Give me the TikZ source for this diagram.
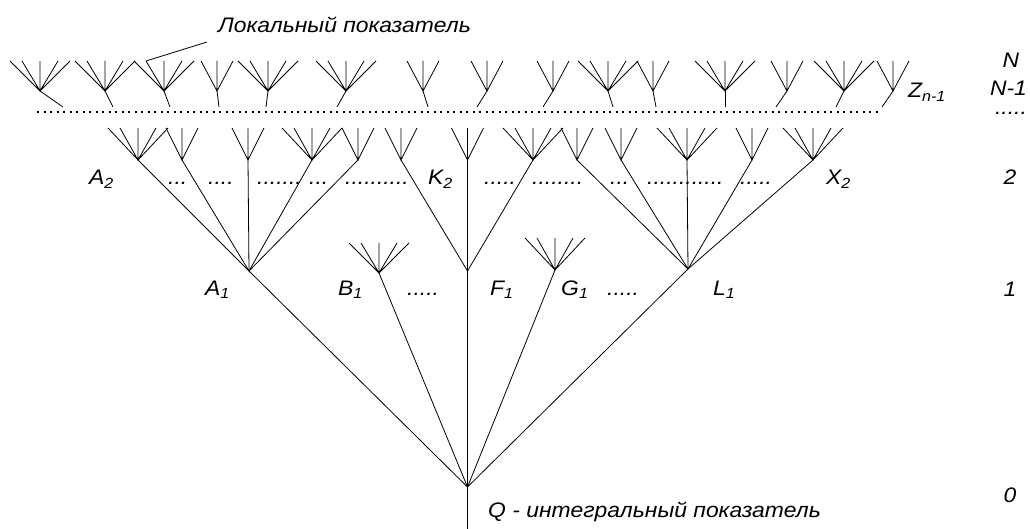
\documentclass[tikz,border=0pt]{standalone}
\usepackage{fontspec}
\setmainfont{Liberation Sans}[FakeStretch=1.09]
% a run of #1 full stops
\newcommand\dotrun[1]{\foreach \i in {1,...,#1}{.}}
\begin{document}
\begin{tikzpicture}[x=1pt,y=-1pt,
  wire/.style={line width=0.8pt,black},
  lab/.style={font=\fontsize{21}{24}\selectfont\itshape,inner sep=0pt,anchor=base west},
  lev/.style={lab,anchor=base},
  pics/fanfive/.style={code={\draw[wire] (-30,-#1) -- (0,0) -- (30,-#1)
      (-18,-#1) -- (0,0) -- (18,-#1) (0,-#1) -- (0,0);}},
  pics/fanthree/.style={code={\draw[wire] (-16,-#1) -- (0,0) -- (16,-#1)
      (0,-#1) -- (0,0);}},
]
\useasboundingbox (0,0) rectangle (1030,529);

% ---- level N: local indicators, each with a stem to the N-1 row
\foreach \n/\x/\s in {1/40/63, 2/105/113, 3/164/170, 4/217/219, 5/268/266,
    6/346/337, 7/423/428, 8/487/477, 9/553/543, 10/608/613, 11/653/656,
    12/725/725, 13/787/776, 14/844/836, 15/893/882}{
  \coordinate (t\n) at (\x,91);
  \coordinate (t\n-foot) at (\s,107);
  \draw[wire] (t\n) -- (t\n-foot);
}
\foreach \n in {1,2,3,5,6,10,12,14} \pic at (t\n) {fanfive=30};
\foreach \n in {4,7,8,9,11,13,15} \pic at (t\n) {fanthree=30};

% dotted row N-1
\coordinate (dl) at (37,112);
\coordinate (dr) at (878,112);
\draw[line width=2.2pt,dash pattern=on 2.2pt off 4.3pt] (dl) -- (dr);

% ---- level 2
\foreach \n/\x in {a1/138, a2/182, a3/248, a4/312, a5/358,
    f1/401, f2/467.5, f3/533,
    l1/577, l2/621, l3/687, l4/752, l5/813}{
  \coordinate (\n) at (\x,160);
}
\foreach \n in {a1,a4,f3,l3,l5} \pic at (\n) {fanfive=32};
\foreach \n in {a2,a3,a5,f1,f2,l1,l2,l4} \pic at (\n) {fanthree=32};

% ---- level 1
\coordinate (A1) at (249,271);
\coordinate (B1) at (379,273);
\coordinate (F1) at (467.5,271);
\coordinate (G1) at (555,270);
\coordinate (L1) at (688,269);
\pic at (B1) {fanfive=30};
\pic at (G1) {fanfive=32};

\foreach \c in {a1,a2,a3,a4,a5} \draw[wire] (A1) -- (\c);
\foreach \c in {f1,f2,f3} \draw[wire] (F1) -- (\c);
\foreach \c in {l1,l2,l3,l4,l5} \draw[wire] (L1) -- (\c);

% ---- level 0: integral indicator
\coordinate (Q) at (467.5,487);
\coordinate (Q-foot) at (467.5,529);
\foreach \c in {A1,B1,F1,G1,L1} \draw[wire] (Q) -- (\c);
\draw[wire] (Q) -- (Q-foot);

% ---- labels
\node[lab] (loc) at (218,33) {Локальный показатель};
\coordinate (loc-end) at (207,42);
\coordinate (lead) at (146,61);
\draw[wire] (lead) -- (loc-end);

\node[lab] (Z) at (908,98) {Z\textsubscript{n-1}};

\node[lab] (A2l) at (89,185) {A\textsubscript{2}};
\node[lab] (K2l) at (428,185) {K\textsubscript{2}};
\node[lab] (X2l) at (826,185) {X\textsubscript{2}};
\foreach \x/\k in {168/3, 208/4, 257/7, 309/3, 345/10,
    484/5, 532/8, 610/3, 647/12, 740/5}{
  \node[lab] at (\x,185) {\dotrun{\k}};
}

\node[lab] (A1l) at (205,295) {A\textsubscript{1}};
\node[lab] (B1l) at (338,295) {B\textsubscript{1}};
\node[lab] (F1l) at (490,295) {F\textsubscript{1}};
\node[lab] (G1l) at (561,295) {G\textsubscript{1}};
\node[lab] (L1l) at (713,295) {L\textsubscript{1}};
\node[lab] (d1) at (407,295) {\dotrun{5}};
\node[lab] (d2) at (607,295) {\dotrun{5}};

\node[lab] (Ql) at (488,517) {Q - интегральный показатель};

% level numbers
\node[lev] (lN) at (1011,68) {N};
\node[lev] (lN1) at (1008.5,96) {N-1};
\node[lev] (ldots) at (1011,115) {\dotrun{5}};
\node[lev] (l2) at (1010,185) {2};
\node[lev] (l1) at (1010,296) {1};
\node[lev] (l0) at (1010,502) {0};
\end{tikzpicture}
\end{document}
